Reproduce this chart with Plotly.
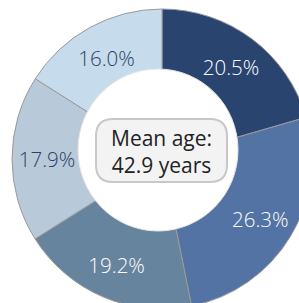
import plotly.graph_objects as go

# ---- data ----
shares = [20.5, 26.3, 19.2, 17.9, 16.0]
slice_colors = ["#2A4470", "#5273A3", "#67849F", "#B8C9D9", "#C6DCEC"]
text_colors = ["#FFFFFF", "#FFFFFF", "#FFFFFF", "#2B3F66", "#2B3F66"]
slice_text = [f"{v:.1f}%" for v in shares]
mean_age = 42.9

# ---- layout geometry (pixels) ----
W, H = 312, 309
ML, MT = 12, 9
PW, PH = W - ML, H - MT


def px(x):
    return (x - ML) / PW


def py(y):
    return (H - y) / PH


FONT = "Open Sans"

fig = go.Figure()
# full pie (colored slices)
fig.add_trace(go.Pie(
    values=shares, sort=False, direction="clockwise", rotation=0,
    marker=dict(colors=slice_colors, line=dict(color="#9A9A9A", width=1)),
    textinfo="none", hoverinfo="skip", showlegend=False,
))
# ring for labels
fig.add_trace(go.Pie(
    values=shares, sort=False, direction="clockwise", rotation=0, hole=0.533,
    marker=dict(colors=["rgba(0,0,0,0)"] * len(shares), line=dict(width=0)),
    text=slice_text, textinfo="text", textposition="inside",
    insidetextorientation="horizontal",
    textfont=dict(family=FONT, size=20.5, color=text_colors, weight=300),
    hoverinfo="skip", showlegend=False,
))

shapes = [
    dict(type="circle", xref="paper", yref="paper",
         x0=px(78), x1=px(238), y0=py(231), y1=py(69),
         fillcolor="white", line=dict(color="#E6E6E6", width=1), layer="above"),
]
# rounded box
bx0, bx1, by0, by1, rr = 96, 227, 119, 182, 17
path = (
    f"M {px(bx0+rr)},{py(by0)} L {px(bx1-rr)},{py(by0)} "
    f"Q {px(bx1)},{py(by0)} {px(bx1)},{py(by0+rr)} "
    f"L {px(bx1)},{py(by1-rr)} Q {px(bx1)},{py(by1)} {px(bx1-rr)},{py(by1)} "
    f"L {px(bx0+rr)},{py(by1)} Q {px(bx0)},{py(by1)} {px(bx0)},{py(by1-rr)} "
    f"L {px(bx0)},{py(by0+rr)} Q {px(bx0)},{py(by0)} {px(bx0+rr)},{py(by0)} Z"
)
shapes.append(dict(type="path", xref="paper", yref="paper", path=path,
                   fillcolor="#F3F3F3", line=dict(color="#C8C8C8", width=2),
                   layer="above"))

fig.update_layout(
    width=W, height=H,
    margin=dict(l=ML, r=0, t=MT, b=0),
    paper_bgcolor="white", plot_bgcolor="white",
    showlegend=False,
    shapes=shapes,
    annotations=[dict(
        text=f"Mean age:<br>{mean_age} years", xref="paper", yref="paper",
        x=px((bx0 + bx1) / 2), y=py((by0 + by1) / 2 + 0.5),
        xanchor="center", yanchor="middle", showarrow=False,
        font=dict(family=FONT, size=21, color="#222222"),
    )],
)

fig.write_html(
    "out.html",
    config={"displayModeBar": False},
    post_script="document.body.style.margin='0';document.body.style.overflow='hidden';"
                "document.documentElement.style.overflow='hidden';",
)
